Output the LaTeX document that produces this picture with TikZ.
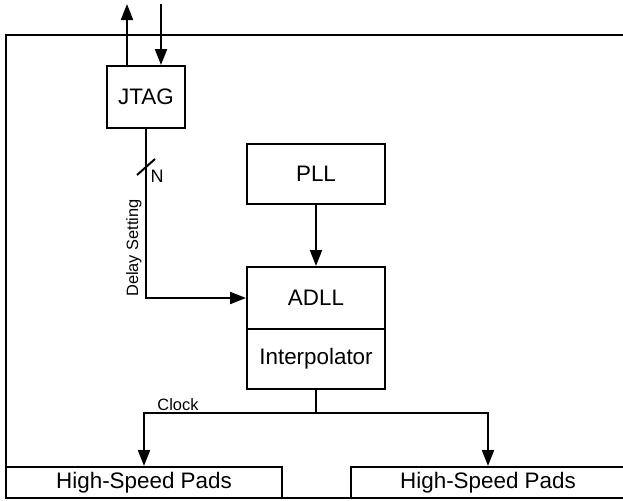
\documentclass[tikz,border=0pt]{standalone}
\usepackage{fontspec}
\setmainfont{Liberation Sans}
\usepackage{tikz}
\usetikzlibrary{positioning, arrows.meta}

\begin{document}
\begin{tikzpicture}[
    x=0.5pt, y=-0.5pt,
    blk/.style={draw, rectangle, line width=1pt, inner sep=0pt, font=\fontsize{11.2}{13}\selectfont},
    link/.style={line width=1pt},
    arr/.style={link, -{Triangle[length=8pt, width=6pt]}},
    lbl/.style={font=\fontsize{8.2}{10}\selectfont, inner sep=1pt}
]
\useasboundingbox (0,0) rectangle (623,500);

% Chip outline
\draw[link] (625,35) -- (6,35) -- (6,498) -- (625,498);

% Blocks
\node[blk, minimum width=39pt, minimum height=31pt] (jtag) at (146,97) {JTAG};
\node[blk, minimum width=69pt, minimum height=30pt] (pll) at (316,174) {PLL};
\node[blk, minimum width=69pt, minimum height=31pt] (adll) at (316,298) {ADLL};
\node[blk, minimum width=69pt, minimum height=30pt, below=-1pt of adll] (interp) {Interpolator};
\node[blk, minimum width=138pt, minimum height=15.5pt] (padsl) at (144,482.5) {High-Speed Pads};
\node[blk, minimum width=137pt, minimum height=15.5pt] (padsr) at (488,482.5) {High-Speed Pads};

% JTAG port
\coordinate (tdo) at (127,4);
\coordinate (tdi) at (161,4);
\draw[arr] (jtag.north -| tdo) -- (tdo);
\draw[arr] (tdi) -- (jtag.north -| tdi);

% Delay setting bus
\draw[arr] (jtag.south) |- (adll.west);
\coordinate (bus) at (146,167);
\draw[link] ([shift={(-9,8)}]bus) -- ([shift={(9,-8)}]bus);
\node[lbl, font=\fontsize{9}{10}\selectfont] (n) at (157,176) {N};
\node[lbl, rotate=90, anchor=south, inner sep=2pt] (delay) at (146,248) {Delay Setting};

% Clock tree
\draw[arr] (pll) -- (adll);
\coordinate (split) at (316,413);
\draw[link] (interp.south) -- (split);
\draw[arr] (split) -| (padsl.north);
\draw[arr] (split) -| (padsr.north);
\node[lbl, anchor=south] (clock) at (178,413) {Clock};
\end{tikzpicture}
\end{document}
